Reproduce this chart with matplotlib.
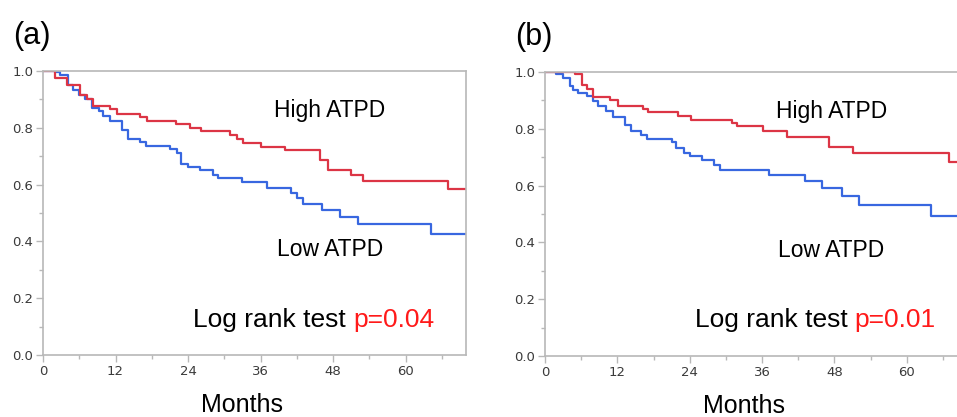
import matplotlib.pyplot as plt
import numpy as np
from matplotlib.ticker import MultipleLocator

# Kaplan-Meier step curves (months, survival)
a_high_t = [0, 2, 3.9, 6.1, 7.2, 8.2, 11.1, 12.2, 16, 17.2, 22, 24.3, 26.2, 31, 32.1, 33.1, 36.1, 40, 45.9, 47.2, 51, 52.9, 67, 70]
a_high_s = [1.0, 0.974, 0.951, 0.915, 0.90, 0.877, 0.866, 0.849, 0.837, 0.825, 0.813, 0.800, 0.789, 0.776, 0.762, 0.745, 0.731, 0.722, 0.687, 0.651, 0.634, 0.614, 0.583, 0.583]
a_low_t = [0, 2, 2.8, 4.2, 5, 5.9, 7, 8.1, 9.2, 10, 11.1, 13, 14.1, 16, 17.1, 21, 22.1, 22.9, 24, 26, 28.1, 29, 32.9, 37, 41.1, 42, 43.1, 46.1, 49.1, 52.1, 64.2, 70]
a_low_s = [1.0, 0.995, 0.985, 0.951, 0.934, 0.915, 0.90, 0.871, 0.860, 0.842, 0.823, 0.792, 0.760, 0.751, 0.737, 0.724, 0.710, 0.674, 0.663, 0.651, 0.634, 0.622, 0.608, 0.589, 0.572, 0.554, 0.532, 0.511, 0.487, 0.460, 0.426, 0.426]

b_high_t = [0, 5, 6.1, 7, 8, 10.8, 12.1, 16.3, 17.1, 22.1, 24.2, 31.1, 31.9, 36.2, 40.1, 47.1, 51.1, 67, 70]
b_high_s = [1.0, 0.993, 0.955, 0.94, 0.912, 0.901, 0.882, 0.869, 0.858, 0.844, 0.832, 0.821, 0.809, 0.791, 0.771, 0.736, 0.715, 0.682, 0.682]
b_low_t = [0, 1.9, 3.0, 4.1, 4.7, 5.5, 7, 7.9, 8.8, 10.2, 11.2, 13.3, 14.2, 16, 17, 21, 21.8, 23, 24.1, 26, 28, 29.1, 37.2, 43.1, 46, 49.2, 52.1, 64.1, 70]
b_low_s = [1.0, 0.993, 0.98, 0.95, 0.938, 0.926, 0.914, 0.897, 0.881, 0.862, 0.841, 0.815, 0.791, 0.779, 0.765, 0.752, 0.732, 0.715, 0.703, 0.689, 0.673, 0.656, 0.638, 0.615, 0.591, 0.562, 0.530, 0.494, 0.494]

panels = ['(a)', '(b)']
p_values = ['p=0.04', 'p=0.01']

red = '#dc3545'
blue = '#3867e0'
frame = '#b8b8b8'
tickcol = '#3a3a3a'
txtfont = 'Liberation Sans'

fig = plt.figure(figsize=(9.57, 4.17), dpi=100)
ax_a = fig.add_axes([43/957, 1-355/417, 423/957, 284/417])
ax_b = fig.add_axes([545/957, 1-356/417, 422/957, 284/417])

data = [(ax_a, a_high_t, a_high_s, a_low_t, a_low_s),
        (ax_b, b_high_t, b_high_s, b_low_t, b_low_s)]

for i, (ax, ht, hs, lt, ls) in enumerate(data):
    ax.step(lt, ls, where='post', color=blue, lw=1.6, zorder=2)
    ax.step(ht, hs, where='post', color=red, lw=1.6, zorder=2)
    ax.set_xlim(0, 70)
    ax.set_ylim(0, 1.0)
    ax.xaxis.set_major_locator(MultipleLocator(12))
    ax.xaxis.set_minor_locator(MultipleLocator(6))
    ax.yaxis.set_major_locator(MultipleLocator(0.2))
    ax.yaxis.set_minor_locator(MultipleLocator(0.1))
    ax.set_yticklabels([f'{v:.1f}' for v in ax.get_yticks()])
    ax.tick_params(which='both', direction='out', color=frame, width=1.0,
                   labelcolor=tickcol, labelsize=9.5)
    ax.tick_params(which='major', length=5, pad=2)
    ax.tick_params(which='minor', length=3)
    for s in ax.spines.values():
        s.set_color(frame)
        s.set_linewidth(1.2)
        s.set_zorder(3)

    ax.text(-0.07, 1.123, panels[i], transform=ax.transAxes, fontsize=22,
            family=txtfont, ha='left', va='center')
    ax.text(47.5, 0.86, 'High ATPD', fontsize=16.5, family=txtfont, ha='center', va='center')
    ax.text(47.5, 0.37, 'Low ATPD', fontsize=16.5, family=txtfont, ha='center', va='center')
    t = ax.text(24.8, 0.125, 'Log rank test ', fontsize=19, family=txtfont, ha='left', va='center')
    ax.annotate(p_values[i], xycoords=t, xy=(1, 0), va='bottom', ha='left',
                fontsize=19, family=txtfont, color='#ff1a1a')
    ax.text(33, -0.176, 'Months', fontsize=18, family=txtfont, ha='center', va='center',
            clip_on=False)

plt.savefig('out.png', dpi=100)
